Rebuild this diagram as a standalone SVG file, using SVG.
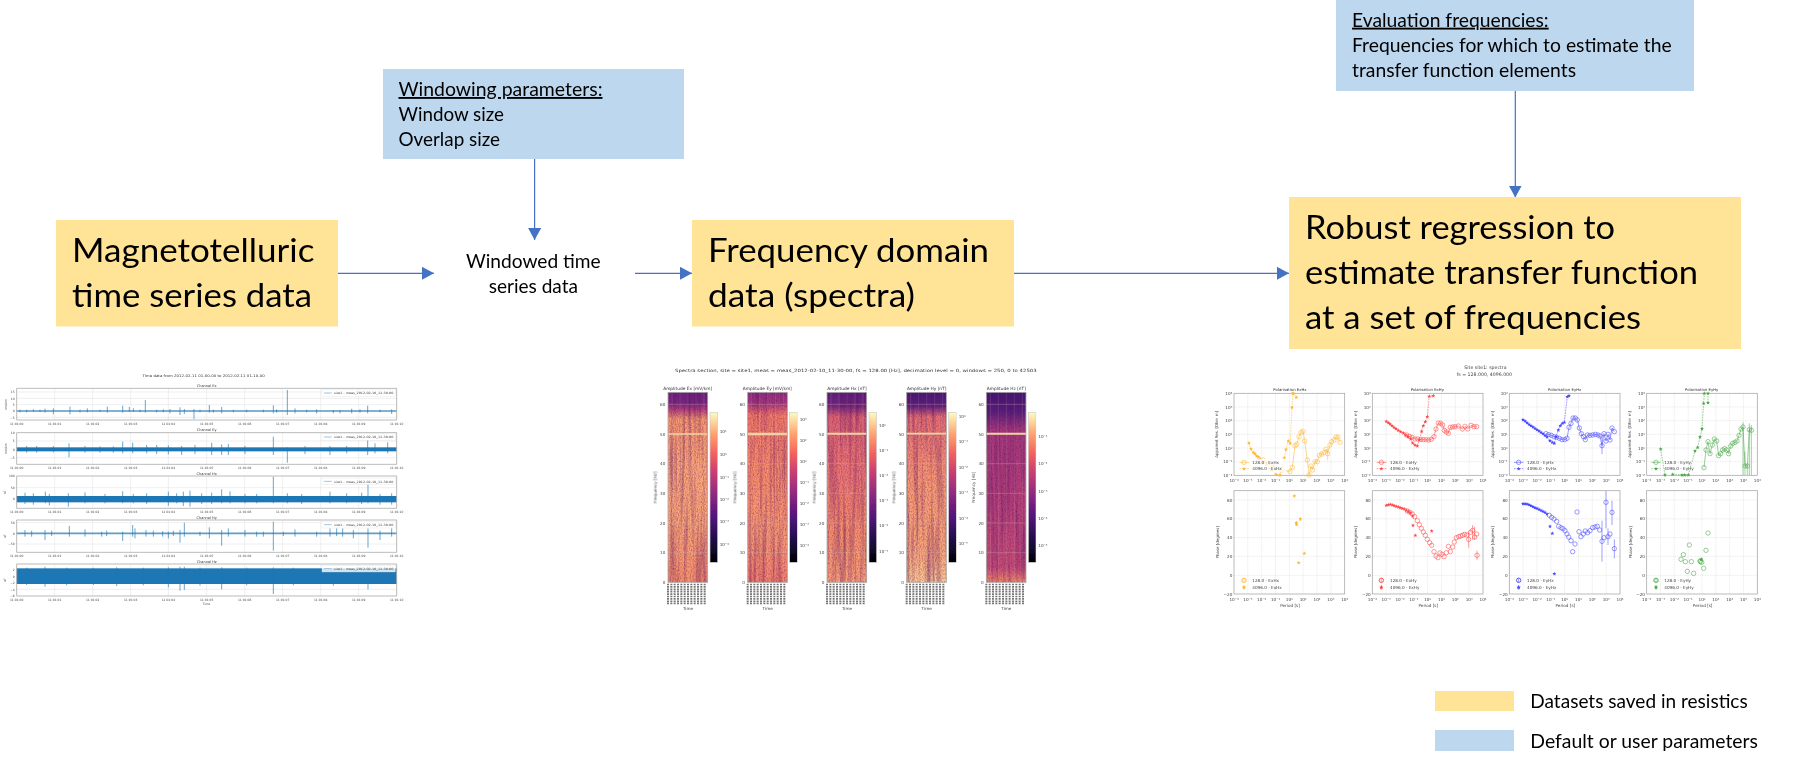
<svg xmlns="http://www.w3.org/2000/svg" width="1812" height="766" viewBox="0 0 1812 766">
<style>
text{font-family:"Lato","Liberation Sans",sans-serif;fill:#000}
.yel{fill:#ffe497}.blu{fill:#bdd7ee}
.b{font-size:33px}.m{font-size:18.6px}.u{text-decoration:underline}
.con{fill:none;stroke:#4472c4;stroke-width:1.2;marker-end:url(#ah)}
.p text,.ax text{font-family:"DejaVu Sans","Liberation Sans",sans-serif;fill:#444;font-size:12.5px}
.tk text,.tp text{font-family:"DejaVu Sans","Liberation Sans",sans-serif;fill:#444;font-size:9px}
.p .t{font-size:13px;fill:#333}
.tp .t{font-size:10.5px;fill:#333}
.mid{text-anchor:middle}.end{text-anchor:end}
.fr{fill:none;stroke:#aaa;stroke-width:2.4}
.gr{fill:none;stroke:#ddd;stroke-width:1.4}
.gd{fill:none;stroke:#d4d4d4;stroke-width:1.4;stroke-dasharray:3 2}
.sp{fill:none;stroke:#1f77b4;stroke-width:2}
.ls{fill:none;stroke-width:1.7}.da{stroke-dasharray:5 3}
.o{stroke:#ffb733}.r{stroke:#ff4a4a}.bl{stroke:#4a4aff}.g{stroke:#4aa84a}
.oc{marker:url(#oc)}.os{marker:url(#os)}.rc{marker:url(#rc)}.rs{marker:url(#rs)}
.bc{marker:url(#bc)}.bs{marker:url(#bs)}.gc{marker:url(#gc)}.gs{marker:url(#gs)}
.lm{marker-start:none;marker-end:none}
.eb{fill:none;stroke-width:1.6}
.hn{filter:url(#noise)}
</style>
<defs>
<marker id="ah" markerUnits="userSpaceOnUse" markerWidth="13" markerHeight="14" refX="12" refY="6.5" orient="auto"><path d="M0 0L12 6.5L0 13Z" fill="#4472c4"/></marker>
<marker id="oc" markerUnits="userSpaceOnUse" markerWidth="20" markerHeight="20" refX="10" refY="10"><circle cx="10" cy="10" r="6.6" fill="none" stroke="#ffb733" stroke-width="1.7"/></marker>
<marker id="rc" markerUnits="userSpaceOnUse" markerWidth="20" markerHeight="20" refX="10" refY="10"><circle cx="10" cy="10" r="6.6" fill="none" stroke="#ff4a4a" stroke-width="1.7"/></marker>
<marker id="bc" markerUnits="userSpaceOnUse" markerWidth="20" markerHeight="20" refX="10" refY="10"><circle cx="10" cy="10" r="6.6" fill="none" stroke="#4a4aff" stroke-width="1.7"/></marker>
<marker id="gc" markerUnits="userSpaceOnUse" markerWidth="20" markerHeight="20" refX="10" refY="10"><circle cx="10" cy="10" r="6.6" fill="none" stroke="#4aa84a" stroke-width="1.7"/></marker>
<marker id="os" markerUnits="userSpaceOnUse" markerWidth="20" markerHeight="20" refX="10" refY="10"><path d="M10 4L11.6 8L16 8.2L12.6 11L13.7 15.5L10 13L6.3 15.5L7.4 11L4 8.2L8.4 8Z" fill="#ffb733"/></marker>
<marker id="rs" markerUnits="userSpaceOnUse" markerWidth="20" markerHeight="20" refX="10" refY="10"><path d="M10 4L11.6 8L16 8.2L12.6 11L13.7 15.5L10 13L6.3 15.5L7.4 11L4 8.2L8.4 8Z" fill="#ff4a4a"/></marker>
<marker id="bs" markerUnits="userSpaceOnUse" markerWidth="20" markerHeight="20" refX="10" refY="10"><path d="M10 4L11.6 8L16 8.2L12.6 11L13.7 15.5L10 13L6.3 15.5L7.4 11L4 8.2L8.4 8Z" fill="#4a4aff"/></marker>
<marker id="gs" markerUnits="userSpaceOnUse" markerWidth="20" markerHeight="20" refX="10" refY="10"><path d="M10 4L11.6 8L16 8.2L12.6 11L13.7 15.5L10 13L6.3 15.5L7.4 11L4 8.2L8.4 8Z" fill="#4aa84a"/></marker>
<filter id="soft" x="-2%" y="-2%" width="104%" height="104%"><feGaussianBlur stdDeviation="1.4"/></filter>
<filter id="noise" x="0" y="0" width="100%" height="100%" color-interpolation-filters="sRGB">
<feTurbulence type="fractalNoise" baseFrequency=".11 .004" numOctaves="2" seed="7"/>
<feColorMatrix values="0 0 0 0 .35  0 0 0 0 .05  0 0 0 0 .4  1.1 0 0 0 -.47"/>
<feComposite in2="SourceAlpha" operator="in" result="a"/>
<feTurbulence type="fractalNoise" baseFrequency=".28 .18" numOctaves="2" seed="3"/>
<feColorMatrix values="0 0 0 0 .4  0 0 0 0 .05  0 0 0 0 .35  .9 0 0 0 -.36"/>
<feComposite in2="SourceAlpha" operator="in" result="c"/>
<feMerge><feMergeNode in="SourceGraphic"/><feMergeNode in="a"/><feMergeNode in="c"/></feMerge>
</filter>
<linearGradient id="magma" x1="0" y1="1" x2="0" y2="0">
<stop offset="0" stop-color="#000004"/><stop offset=".15" stop-color="#1d1147"/><stop offset=".3" stop-color="#51127c"/><stop offset=".45" stop-color="#8c2981"/><stop offset=".6" stop-color="#c83e73"/><stop offset=".72" stop-color="#f1605d"/><stop offset=".85" stop-color="#fe9f6d"/><stop offset="1" stop-color="#fcfdbf"/>
</linearGradient>
<linearGradient id="hEx" x1="0" y1="0" x2="0" y2="1"><stop offset="0" stop-color="#6a2480"/><stop offset=".06" stop-color="#7a2a80"/><stop offset=".09" stop-color="#b2407a"/><stop offset=".14" stop-color="#f89a6c"/><stop offset=".4" stop-color="#fba678"/><stop offset=".7" stop-color="#fba676"/><stop offset="1" stop-color="#f89068"/></linearGradient>
<linearGradient id="hEy" x1="0" y1="0" x2="0" y2="1"><stop offset="0" stop-color="#8e3080"/><stop offset=".06" stop-color="#a83a7c"/><stop offset=".12" stop-color="#f27a66"/><stop offset=".4" stop-color="#f88c6a"/><stop offset=".75" stop-color="#fb9c72"/><stop offset="1" stop-color="#f2806a"/></linearGradient>
<linearGradient id="hHx" x1="0" y1="0" x2="0" y2="1"><stop offset="0" stop-color="#5c2080"/><stop offset=".07" stop-color="#70287e"/><stop offset=".13" stop-color="#de6470"/><stop offset=".45" stop-color="#ec7670"/><stop offset=".75" stop-color="#f89068"/><stop offset="1" stop-color="#fba076"/></linearGradient>
<linearGradient id="hHy" x1="0" y1="0" x2="0" y2="1"><stop offset="0" stop-color="#451a78"/><stop offset=".07" stop-color="#5a2080"/><stop offset=".13" stop-color="#ea7070"/><stop offset=".5" stop-color="#f99a70"/><stop offset=".85" stop-color="#fca878"/><stop offset="1" stop-color="#fecb90"/></linearGradient>
<linearGradient id="hHz" x1="0" y1="0" x2="0" y2="1"><stop offset="0" stop-color="#3f1573"/><stop offset=".1" stop-color="#54207c"/><stop offset=".2" stop-color="#a83a7c"/><stop offset=".5" stop-color="#b4407a"/><stop offset=".92" stop-color="#c44c76"/><stop offset="1" stop-color="#f48a68"/></linearGradient>
<g id="tt" class="tk">
<path class="gr" d="M164-95V0M278-95V0M392-95V0M505-95V0M620-95V0M734-95V0M848-95V0M962-95V0M1076-95V0"/>
<text class="mid" x="50" y="14">11:01:00</text><text class="mid" x="164" y="14">11:01:01</text><text class="mid" x="278" y="14">11:01:02</text><text class="mid" x="392" y="14">11:01:03</text><text class="mid" x="505" y="14">11:01:04</text><text class="mid" x="620" y="14">11:01:05</text><text class="mid" x="734" y="14">11:01:06</text><text class="mid" x="848" y="14">11:01:07</text><text class="mid" x="962" y="14">11:01:08</text><text class="mid" x="1076" y="14">11:01:09</text><text class="mid" x="1190" y="14">11:01:10</text>
</g>
<g id="lg" class="tk"><rect x="966" y="-9" width="220" height="20" fill="#fff" fill-opacity=".8" stroke="#ddd"/><path d="M972 1H995" stroke="#8fbbd9" stroke-width="2.5"/><text x="1002" y="5" textLength="178" lengthAdjust="spacingAndGlyphs">site1 - meas_2012-02-10_11-30-00</text></g>
<g id="sa" class="ax">
<path d="M0 36H119M0 125H119M0 214H119M0 303H119M0 392H119M0 481H119" stroke="#c9b8b0" stroke-opacity=".6" stroke-width="1.6"/>
<path d="M12 0V570M36 0V570M60 0V570M84 0V570M108 0V570" stroke="#c9b8b0" stroke-opacity=".35" stroke-width="1.4"/>
<rect class="fr" width="119" height="570"/>
<text class="end" x="-8" y="41">60</text><text class="end" x="-8" y="130">50</text><text class="end" x="-8" y="219">40</text><text class="end" x="-8" y="308">30</text><text class="end" x="-8" y="397">20</text><text class="end" x="-8" y="486">10</text><text class="end" x="-8" y="575">0</text>
<path d="M0 574V636M10 574V636M20 574V636M30 574V636M40 574V636M50 574V636M60 574V636M70 574V636M80 574V636M90 574V636M100 574V636M110 574V636" stroke="#777" stroke-width="6" stroke-dasharray="5 2.2" fill="none"/>
<text class="mid" x="60" y="652">Time</text>
<text class="mid" transform="translate(-33 285) rotate(-90)">Frequency [Hz]</text>
<rect x="126" y="60" width="23" height="450" fill="url(#magma)" stroke="#ccc" stroke-width="2"/>
</g>
<g id="ta" class="ax">
<rect width="332" height="246" fill="#fff"/>
<path class="gd" d="M41.5 0V246M83 0V246M124.5 0V246M166 0V246M207.5 0V246M249 0V246M290.5 0V246M0 41H332M0 82H332M0 123H332M0 164H332M0 205H332"/>
<rect class="fr" width="332" height="246"/>
<text class="mid" y="266">10⁻⁴</text><text class="mid" x="41.5" y="266">10⁻³</text><text class="mid" x="83" y="266">10⁻²</text><text class="mid" x="124.5" y="266">10⁻¹</text><text class="mid" x="166" y="266">10⁰</text><text class="mid" x="207.5" y="266">10¹</text><text class="mid" x="249" y="266">10²</text><text class="mid" x="290.5" y="266">10³</text><text class="mid" x="332" y="266">10⁴</text>
<text class="end" x="-5" y="5">10⁴</text><text class="end" x="-5" y="46">10³</text><text class="end" x="-5" y="87">10²</text><text class="end" x="-5" y="128">10¹</text><text class="end" x="-5" y="169">10⁰</text><text class="end" x="-5" y="210">10⁻¹</text><text class="end" x="-5" y="251">10⁻²</text>
<text class="mid" transform="translate(-47 123) rotate(-90)" style="font-size:12px">Apparent Res. [Ohm m]</text>
</g>
<g id="ba" class="ax">
<rect width="332" height="310" fill="#fff"/>
<path class="gd" d="M41.5 0V310M83 0V310M124.5 0V310M166 0V310M207.5 0V310M249 0V310M290.5 0V310M0 28H332M0 84.5H332M0 141H332M0 197H332M0 254H332"/>
<rect class="fr" width="332" height="310"/>
<text class="mid" y="330">10⁻⁴</text><text class="mid" x="41.5" y="330">10⁻³</text><text class="mid" x="83" y="330">10⁻²</text><text class="mid" x="124.5" y="330">10⁻¹</text><text class="mid" x="166" y="330">10⁰</text><text class="mid" x="207.5" y="330">10¹</text><text class="mid" x="249" y="330">10²</text><text class="mid" x="290.5" y="330">10³</text><text class="mid" x="332" y="330">10⁴</text>
<text class="end" x="-5" y="33">80</text><text class="end" x="-5" y="89">60</text><text class="end" x="-5" y="146">40</text><text class="end" x="-5" y="202">20</text><text class="end" x="-5" y="259">0</text><text class="end" x="-5" y="315">−20</text>
<text class="mid" transform="translate(-45 155) rotate(-90)" style="font-size:12px">Phase [degrees]</text>
<text class="mid" x="168" y="348">Period [s]</text>
</g>
</defs>

<rect width="1812" height="766" fill="#fff"/>

<g id="plot-time-series" class="tp" transform="translate(0 360) scale(.33333)" filter="url(#soft)">
<text class="t mid" x="611" y="51" textLength="367" lengthAdjust="spacingAndGlyphs">Time data from 2012-02-11 01-00-00 to 2012-02-11 01-10-00</text>
<text class="t mid" x="620" y="81">Channel Ex</text><text class="t mid" x="620" y="212">Channel Ey</text><text class="t mid" x="620" y="344">Channel Hx</text><text class="t mid" x="620" y="476">Channel Hy</text><text class="t mid" x="620" y="608">Channel Hz</text>
<use href="#tt" y="180"/><use href="#tt" y="313"/><use href="#tt" y="445"/><use href="#tt" y="577"/><use href="#tt" y="708"/>
<path class="gr" d="M50 96H1190M50 115H1190M50 134H1190M50 153H1190M50 172H1190M50 243H1190M50 268H1190M50 293H1190M50 383H1190M50 417H1190M50 488H1190M50 520H1190M50 552H1190M50 630H1190M50 649H1190M50 668H1190M50 688H1190"/>
<path class="sp" stroke-opacity=".55" d="M50 153H1190" style="stroke-width:6"/>
<path class="sp" d="M160 145V163M210 140V163M262 145V157M322 140V158M368 137V158M388 141V156M400 145V156M436 120V158M510 147V160M540 142V165M553 147V162M582 147V177M628 135V158M665 141V160M820 136V160M862 90V165M885 145V160M1103 137V160M1055 146V160M950 148V160M1000 150V160M1020 150V160M1175 148V162M60 149V157M80 149V157M100 148V156M120 149V156M135 146V158M240 149V158M300 149V156M420 149V157M470 149V157M490 148V157M600 149V157M640 149V158M700 149V157M740 149V157M790 149V157M830 148V158M920 149V157M1080 148V158M1140 149V157"/>
<rect x="50" y="262" width="1140" height="12" fill="#1f77b4"/>
<path class="sp" d="M160 258V277M207 250V292M368 245V280M398 248V280M440 255V280M470 255V282M505 256V283M545 258V285M585 255V282M635 248V285M665 253V285M685 252V285M735 258V282M820 230V285M862 262V308M915 258V282M990 258V285M1103 240V285M1125 250V280M1163 247V280M1040 258V280M80 258V278M110 258V278M255 258V278M300 259V278M340 259V278"/>
<rect x="50" y="408" width="1140" height="19" fill="#1f77b4"/>
<path class="sp" d="M820 350V430M1104 372V430M665 388V430M570 392V440M550 395V438M205 400V440M136 395V430M368 394V430M75 398V432M100 400V434M148 402V436M255 397V430M315 402V430M400 402V430M440 400V432M505 395V437M530 400V430M605 400V432M635 398V432M690 394V430M735 402V430M770 402V430M862 400V430M905 402V432M990 395V430M1040 400V430M1085 398V432M1140 402V434M1175 400V434"/>
<path class="sp" stroke-opacity=".7" style="stroke-width:5" d="M50 520H1190"/>
<path class="sp" d="M135 510V540M208 498V530M255 508V530M368 515V543M398 495V530M405 505V535M438 510V530M505 515V535M553 488V530M540 510V548M628 502V535M665 510V557M685 505V530M735 510V530M820 485V572M885 508V530M990 505V530M1010 505V528M1028 505V530M1060 510V535M1104 505V563M1140 512V540M1175 505V530M75 510V530M95 512V530M155 512V528M305 515V530M320 512V528M460 512V530M488 513V530M520 512V528M600 515V528M770 515V530M790 515V530M850 515V528M950 515V530"/>
<rect x="50" y="625" width="1140" height="47" fill="#1f77b4"/>
<path class="sp" d="M135 620V680M540 620V692M553 620V690M665 622V688M820 622V702M1104 622V688M350 622V678M505 622V682M80 623V675M200 623V676M280 623V675M430 623V676M600 623V677M740 623V676M880 623V676M1000 623V677"/>
<use href="#lg" y="98"/><use href="#lg" y="230"/><use href="#lg" y="363"/><use href="#lg" y="493"/><use href="#lg" y="625"/>
<path class="fr" d="M50 85H1190V180H50ZM50 218H1190V313H50ZM50 348H1190V445H50ZM50 480H1190V577H50ZM50 612H1190V708H50Z"/>
<text class="end" x="44" y="99">15</text><text class="end" x="44" y="119">10</text><text class="end" x="44" y="137">5</text><text class="end" x="44" y="157">0</text><text class="end" x="44" y="176">−5</text>
<text class="end" x="44" y="222">10</text><text class="end" x="44" y="247">5</text><text class="end" x="44" y="272">0</text><text class="end" x="44" y="297">−5</text>
<text class="end" x="44" y="352">100</text><text class="end" x="44" y="387">50</text><text class="end" x="44" y="421">0</text>
<text class="end" x="44" y="492">50</text><text class="end" x="44" y="524">0</text><text class="end" x="44" y="556">−50</text>
<text class="end" x="44" y="634">2</text><text class="end" x="44" y="653">0</text><text class="end" x="44" y="672">−2</text><text class="end" x="44" y="692">−4</text><text class="end" x="44" y="712">−6</text>
<text class="mid" transform="translate(21 133) rotate(-90)">mV/km</text><text class="mid" transform="translate(21 266) rotate(-90)">mV/km</text><text class="mid" transform="translate(17 397) rotate(-90)">nT</text><text class="mid" transform="translate(17 528) rotate(-90)">nT</text><text class="mid" transform="translate(17 660) rotate(-90)">nT</text>
<text class="mid" x="619" y="734">Time</text>
</g>

<g id="plot-spectra" class="p" transform="translate(640 355) scale(.33333)" filter="url(#soft)">
<text class="t" x="105" y="51" textLength="1085" lengthAdjust="spacingAndGlyphs">Spectra section, site = site1, meas = meas_2012-02-10_11-30-00, fs = 128.00 [Hz], decimation level =  0, windows = 250, 0 to 42503</text>
<rect class="hn" x="84" y="112" width="119" height="570" fill="url(#hEx)"/><path d="M84 237H203" stroke="#fbd9a0" stroke-width="5"/><use href="#sa" x="84" y="112"/>
<text class="t mid" x="143" y="106">Amplitude Ex [mV/km]</text>
<rect class="hn" x="323" y="112" width="119" height="570" fill="url(#hEy)"/><path d="M323 237H442" stroke="#fbd9a0" stroke-width="7"/><use href="#sa" x="323" y="112"/>
<text class="t mid" x="382" y="106">Amplitude Ey [mV/km]</text>
<rect class="hn" x="561" y="112" width="119" height="570" fill="url(#hHx)"/><path d="M561 236H680" stroke="#fbd9a0" stroke-width="6"/><use href="#sa" x="561" y="112"/>
<text class="t mid" x="621" y="106">Amplitude Hx [nT]</text>
<rect class="hn" x="800" y="112" width="119" height="570" fill="url(#hHy)"/><path d="M800 236H919" stroke="#fbd9a0" stroke-width="5"/><use href="#sa" x="800" y="112"/>
<text class="t mid" x="860" y="106">Amplitude Hy [nT]</text>
<rect class="hn" x="1039" y="112" width="119" height="570" fill="url(#hHz)"/><path d="M1039 236H1158" stroke="#fbd9a0" stroke-width="6"/><use href="#sa" x="1039" y="112"/>
<text class="t mid" x="1099" y="106">Amplitude Hz [nT]</text>
<g>
<text x="239" y="235">10¹</text><text x="239" y="303">10⁰</text><text x="239" y="371">10⁻¹</text><text x="239" y="438">10⁻²</text><text x="239" y="505">10⁻³</text><text x="239" y="573">10⁻⁴</text>
<text x="479" y="199">10³</text><text x="479" y="262">10²</text><text x="479" y="325">10⁰</text><text x="479" y="388">10⁻¹</text><text x="479" y="450">10⁻²</text><text x="479" y="513">10⁻³</text><text x="479" y="575">10⁻⁴</text>
<text x="717" y="215">10⁰</text><text x="717" y="291">10⁻¹</text><text x="717" y="366">10⁻²</text><text x="717" y="442">10⁻³</text><text x="717" y="517">10⁻⁴</text><text x="717" y="593">10⁻⁵</text>
<text x="956" y="189">10⁰</text><text x="956" y="265">10⁻¹</text><text x="956" y="342">10⁻²</text><text x="956" y="418">10⁻³</text><text x="956" y="495">10⁻⁴</text><text x="956" y="571">10⁻⁵</text>
<text x="1195" y="249">10⁻¹</text><text x="1195" y="331">10⁻²</text><text x="1195" y="413">10⁻³</text><text x="1195" y="494">10⁻⁴</text><text x="1195" y="576">10⁻⁵</text>
</g>
</g>

<g id="plot-transfer-function">
<g class="p" transform="translate(1200 355) scale(.33333)" filter="url(#soft)">
<text x="793" y="43" style="font-size:14px">Site site1: spectra</text>
<text x="770" y="62" style="font-size:14px">fs = 128.000, 4096.000</text>
<use href="#ta" x="102" y="115"/><use href="#ba" x="102" y="407"/>
<use href="#ta" x="517" y="115"/><use href="#ba" x="517" y="407"/>
<text class="t mid" x="270" y="108" style="font-size:11.5px">Polarisation ExHx</text><text class="t mid" x="682" y="108" style="font-size:11.5px">Polarisation ExHy</text>
<polyline class="ls da o os" points="147,264 153,282 160,292 165,296 170,303 175,306 180,310 190,322 200,328 215,345 228,358 240,360 253,308 258,283 265,258 271,265 276,157 279,115"/>
<polyline class="ls da o os" points="279,115 289,127"/>
<polyline class="ls o oc" points="190,315 215,330 245,345 270,350 277,337 285,272 290,268 297,245 303,232 309,229 314,258 322,315 327,360 333,333 338,345 345,320 352,320 358,301 365,297 372,293 378,282 383,296 390,270 395,260 402,255 408,246 414,246 420,262"/>
<path class="eb o" d="M383 282V316"/>
<rect x="114" y="311" width="145" height="41" fill="#fff" fill-opacity=".7"/>
<polyline class="ls o oc lm" points="118,322 132,322 147,322"/><polyline class="ls da o os lm" points="118,341 132,341 147,341"/>
<text x="157" y="326">128.0 - ExHx</text><text x="157" y="345">4096.0 - ExHx</text>
<polyline class="ls os" style="stroke:none" points="283,423 289,503 290,508 301,492 313,595 296,623"/>
<polyline class="ls oc" style="stroke:none" points="132,676 132,676"/><polyline class="ls os" style="stroke:none" points="132,697 132,697"/>
<path class="eb o" d="M132 670V682M132 690V704M289 498V514M301 487V498"/>
<text x="157" y="681">128.0 - ExHx</text><text x="157" y="701">4096.0 - ExHx</text>
<polyline class="ls da r rs" points="559,199 565,203 570,207 576,212 582,217 588,221 595,226 602,230 610,234 617,240 624,245 632,252 638,264 645,270 652,273 658,255 665,229 670,212 676,200 682,185 688,124 700,122"/>
<polyline class="ls r rc" points="620,240 628,244 636,247 645,252 653,252 662,253 670,254 678,254 686,255 694,253 702,245 708,222 715,204 722,205 728,210 733,226 739,231 745,235 751,217 758,216 765,215 775,213 787,222 795,214 803,222 813,211 822,215 830,215"/>
<polyline class="ls r rc lm" points="530,322 544,322 559,322"/><polyline class="ls da r rs lm" points="530,341 544,341 559,341"/>
<text x="570" y="326">128.0 - ExHy</text><text x="570" y="345">4096.0 - ExHy</text>
<polyline class="ls rs" style="stroke:none" points="559,451 565,449 571,448 577,450 583,452 589,454 595,456 601,458 607,460 613,462 619,466 625,469 631,473 638,483 639,511 646,541 695,528"/>
<polyline class="ls rc" style="stroke:none" points="622,468 630,472 637,477 644,485 652,497 658,509 664,520 670,531 676,541 682,553 689,563 695,571 702,590 708,603 714,608 720,594 726,598 732,605 739,593 745,574 751,590 758,576 763,561 769,548 776,545 782,543 788,541 794,538 801,540 806,553 812,532 818,526 824,546 830,537 831,601"/>
<path class="eb r" d="M806 530V578M818 510V555M824 515V555M831 587V615M544 670V682M544 690V704"/>
<polyline class="ls rc" style="stroke:none" points="544,676 544,676"/><polyline class="ls rs" style="stroke:none" points="544,697 544,697"/>
<text x="570" y="681">128.0 - ExHy</text><text x="570" y="701">4096.0 - ExHy</text>
</g>
<g class="p" transform="translate(1480 355) scale(.33333)" filter="url(#soft)">
<use href="#ta" x="88" y="115"/><use href="#ba" x="88" y="407"/>
<use href="#ta" x="500" y="115"/><use href="#ba" x="500" y="407"/>
<text class="t mid" x="254" y="108" style="font-size:11.5px">Polarisation EyHx</text><text class="t mid" x="665" y="108" style="font-size:11.5px">Polarisation EyHy</text>
<polyline class="ls da bl bs" points="129,194 135,198 141,203 147,208 153,212 159,216 165,220 171,224 177,228 183,232 189,236 195,241 201,246 210,257 217,262 223,265 228,245 235,225 241,212 247,205 253,202 262,125 267,122"/>
<polyline class="ls bl bc" points="198,236 206,239 214,241 222,245 230,247 238,250 246,254 254,254 261,250 267,217 273,205 279,189 286,189 292,195 298,219 304,236 310,245 316,254 322,240 330,241 338,240 346,238 354,240 360,243 366,272 372,236 378,258 384,238 390,255 396,219 403,230"/>
<path class="eb bl" d="M366 240V297"/>
<polyline class="ls bl bc lm" points="102,322 116,322 130,322"/><polyline class="ls da bl bs lm" points="102,341 116,341 130,341"/>
<text x="141" y="326">128.0 - EyHx</text><text x="141" y="345">4096.0 - EyHx</text>
<polyline class="ls bs" style="stroke:none" points="129,446 135,446 141,447 147,449 153,452 159,455 165,458 171,460 177,463 183,466 189,469 195,472 201,477 210,514 217,535 223,656"/>
<polyline class="ls bc" style="stroke:none" points="208,481 215,487 222,492 230,499 236,514 243,518 249,521 255,527 261,537 266,546 273,557 278,590 285,567 291,471 297,530 303,545 310,537 316,528 323,533 330,527 338,518 345,516 352,514 359,525 366,559 372,548 378,442 384,545 390,537 396,472 403,581"/>
<path class="eb bl" d="M366 497V620M378 408V520M384 520V570M396 437V510M403 553V610M116 670V682M116 690V704"/>
<polyline class="ls bc" style="stroke:none" points="116,676 116,676"/><polyline class="ls bs" style="stroke:none" points="116,697 116,697"/>
<text x="141" y="681">128.0 - EyHx</text><text x="141" y="701">4096.0 - EyHx</text>
<polyline class="ls da g gs" points="542,282 555,360"/>
<polyline class="ls da g gs" points="578,358 606,360 614,360 625,360 645,288 653,277 660,246 666,221 671,145 673,115"/>
<polyline class="ls da g gs" points="684,115 684,143"/>
<polyline class="ls g gc" points="672,338 678,285 684,260 690,296 697,270 703,252 710,258 716,302 722,296 728,285 734,281 740,285 746,296 752,273 758,265 765,262 771,258 777,241 783,222 789,216 795,333 802,333 808,224 814,226"/>
<path class="eb g" d="M789 202V360M795 290V360M802 330V360M808 205V360M814 210V360"/>
<polyline class="ls g gc lm" points="514,322 528,322 542,322"/><polyline class="ls da g gs lm" points="514,341 528,341 542,341"/>
<text x="553" y="326">128.0 - EyHy</text><text x="553" y="345">4096.0 - EyHy</text>
<polyline class="ls gc" style="stroke:none" points="603,613 610,599 616,620 622,649 628,570 634,620 641,655 660,618 665,622 661,620 671,640 678,586 684,534"/>
<polyline class="ls gs" style="stroke:none" points="664,613 664,613"/>
<path class="eb g" d="M528 670V682M528 690V704"/>
<polyline class="ls gc" style="stroke:none" points="528,676 528,676"/><polyline class="ls gs" style="stroke:none" points="528,697 528,697"/>
<text x="553" y="681">128.0 - EyHy</text><text x="553" y="701">4096.0 - EyHy</text>
</g>
</g>

<g id="connectors">
<path class="con" d="M338 273.3H434"/>
<path class="con" d="M534.6 159V240"/>
<path class="con" d="M635 273.3H692"/>
<path class="con" d="M1014 273.3H1289"/>
<path class="con" d="M1515.3 91V197.5"/>
</g>

<g id="n-magnetotelluric">
<rect class="yel" x="56" y="220" width="282" height="106.5"/>
<text class="b" x="72" y="262" textLength="242.5" lengthAdjust="spacingAndGlyphs">Magnetotelluric</text>
<text class="b" x="72" y="306.7" textLength="240" lengthAdjust="spacingAndGlyphs">time series data</text>
</g>
<g id="n-windowing-parameters">
<rect class="blu" x="383" y="69" width="301" height="90"/>
<text class="m u" x="398.5" y="96" textLength="204" lengthAdjust="spacingAndGlyphs">Windowing parameters:</text>
<text class="m" x="398.5" y="121" textLength="105.5" lengthAdjust="spacingAndGlyphs">Window size</text>
<text class="m" x="398.5" y="146" textLength="101.5" lengthAdjust="spacingAndGlyphs">Overlap size</text>
</g>
<g id="n-windowed-time-series">
<text class="m" x="466" y="268" textLength="134.7" lengthAdjust="spacingAndGlyphs">Windowed time</text>
<text class="m" x="488.7" y="293" textLength="89.3" lengthAdjust="spacingAndGlyphs">series data</text>
</g>
<g id="n-frequency-domain">
<rect class="yel" x="692" y="220" width="322" height="106.5"/>
<text class="b" x="708" y="262" textLength="281" lengthAdjust="spacingAndGlyphs">Frequency domain</text>
<text class="b" x="708" y="306.7" textLength="207" lengthAdjust="spacingAndGlyphs">data (spectra)</text>
</g>
<g id="n-evaluation-frequencies">
<rect class="blu" x="1336" y="0" width="358" height="91"/>
<text class="m u" x="1352" y="26.7" textLength="196.7" lengthAdjust="spacingAndGlyphs">Evaluation frequencies:</text>
<text class="m" x="1352" y="51.7" textLength="319.7" lengthAdjust="spacingAndGlyphs">Frequencies for which to estimate the</text>
<text class="m" x="1352" y="76.7" textLength="224" lengthAdjust="spacingAndGlyphs">transfer function elements</text>
</g>
<g id="n-robust-regression">
<rect class="yel" x="1289" y="197" width="452" height="152"/>
<text class="b" x="1305" y="239" textLength="310" lengthAdjust="spacingAndGlyphs">Robust regression to</text>
<text class="b" x="1305" y="284" textLength="393" lengthAdjust="spacingAndGlyphs">estimate transfer function</text>
<text class="b" x="1305" y="329" textLength="336" lengthAdjust="spacingAndGlyphs">at a set of frequencies</text>
</g>
<g id="legend">
<rect class="yel" x="1435" y="691" width="79" height="20"/>
<text class="m" x="1530.3" y="707.7" textLength="217.4" lengthAdjust="spacingAndGlyphs">Datasets saved in resistics</text>
<rect class="blu" x="1435" y="730" width="79" height="21"/>
<text class="m" x="1530.3" y="747.7" textLength="227.7" lengthAdjust="spacingAndGlyphs">Default or user parameters</text>
</g>
</svg>
